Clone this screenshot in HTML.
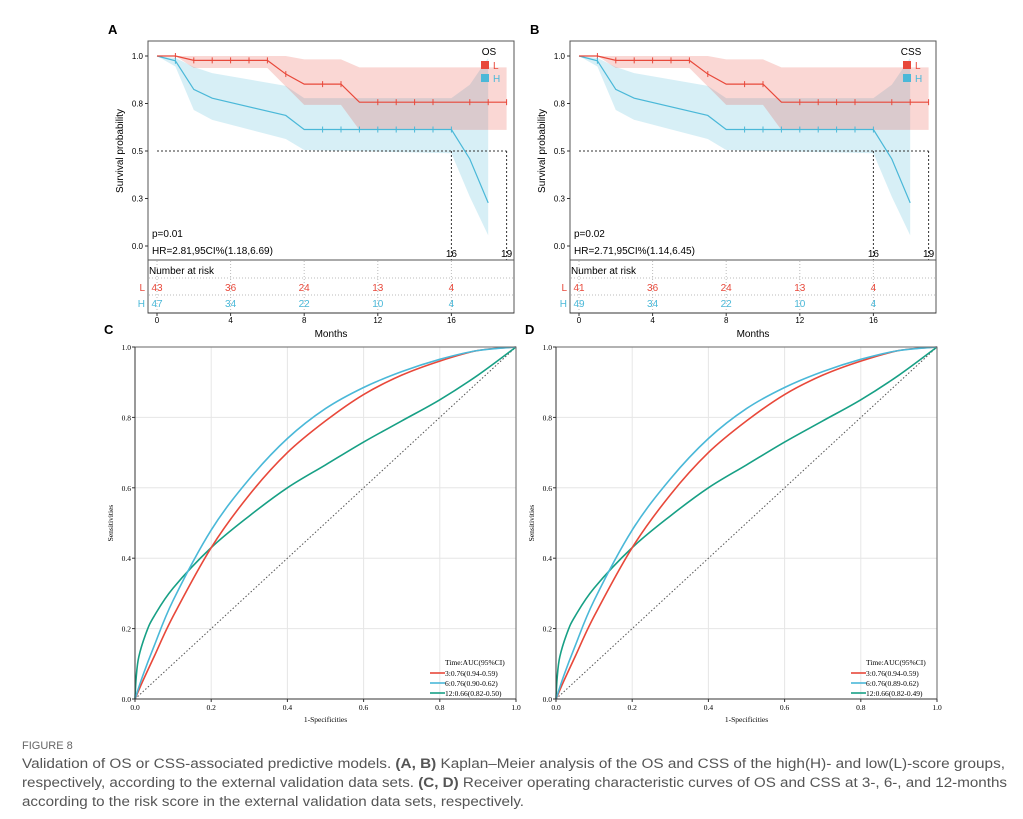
<!DOCTYPE html>
<html><head><meta charset="utf-8"><style>
body{margin:0;background:#fff;}
svg{display:block;font-family:"Liberation Sans",sans-serif;}
.serif{font-family:"Liberation Serif",serif;}
</style></head><body>
<svg id="fig" width="1023" height="819" viewBox="0 0 1023 819" xmlns="http://www.w3.org/2000/svg"></svg>
<script>
// ---- KM data ----
const kmTimes = [0,1,2,6,7,8,10,11,19];
const kmL = [1,1,0.977,0.977,0.905,0.852,0.852,0.757,0.757];
const kmLUpTimes = [0,7,8,10,11,19];
const kmLUp = [1,1,0.982,0.982,0.94,0.94];
const kmLLoTimes = [0,1,2,6,8,10,11,19];
const kmLLo = [1,1,0.937,0.937,0.743,0.743,0.611,0.611];
const kmHTimes = [0,1,2,3,7,8,16,17,18];
const kmH = [1,0.975,0.824,0.778,0.687,0.613,0.613,0.458,0.227];
const kmHUp = [1,0.99,0.942,0.91,0.843,0.778,0.778,0.849,0.99];
const kmHLo = [1,0.945,0.716,0.664,0.563,0.505,0.488,0.259,0.056];
const censorL = [1,2,3,4,5,6,7,9,10,12,13,14,15,17,18,19];
const censorH = [1,9,10,11,12,13,14,15,16];
const riskTimes = [0,4,8,12,16];
const riskA_L = [43,36,24,13,4], riskA_H = [47,34,22,10,4];
const riskB_L = [41,36,24,13,4], riskB_H = [49,34,22,10,4];
const kmYTicks = [0,0.25,0.5,0.75,1], kmYLabels = ["0.0","0.3","0.5","0.8","1.0"];
const kmXTicks = [0,4,8,12,16];
// ---- ROC data ----
const rocX3 = [0,0.02,0.05,0.1,0.2,0.3,0.4,0.5,0.6,0.7,0.8,0.9,1];
const rocY3 = [0,0.05,0.12,0.235,0.43,0.58,0.70,0.79,0.865,0.92,0.96,0.99,1];
const rocX6 = [0,0.02,0.05,0.1,0.2,0.3,0.4,0.5,0.6,0.7,0.8,0.9,1];
const rocY6 = [0,0.065,0.15,0.28,0.48,0.625,0.74,0.825,0.885,0.93,0.965,0.99,1];
const rocX12 = [0,0.003,0.01,0.03,0.05,0.1,0.2,0.3,0.4,0.5,0.6,0.7,0.8,0.9,1];
const rocY12 = [0,0.06,0.12,0.19,0.235,0.315,0.43,0.52,0.60,0.665,0.73,0.79,0.85,0.92,1];
const rocTicks = [0,0.2,0.4,0.6,0.8,1];
const legC = ["3:0.76(0.94-0.59)","6:0.76(0.90-0.62)","12:0.66(0.82-0.50)"];
const legD = ["3:0.76(0.94-0.59)","6:0.76(0.89-0.62)","12:0.66(0.82-0.49)"];

const NS="http://www.w3.org/2000/svg", svg=document.getElementById('fig');
function el(tag, attrs, parent, text){const e=document.createElementNS(NS,tag);for(const k in attrs)e.setAttribute(k,attrs[k]);if(text!==undefined)e.textContent=text;(parent||svg).appendChild(e);return e;}
const RED="#e8483a", BLUE="#4ab8d8", GREEN="#17a085";

function km(dx, tag, legTitle, pTxt, hrTxt, rL, rH){
  const g=el('g',{});
  
  
  const x=t=>157+dx+t*18.4, y=v=>246-v*190;
  const t=el('text',{x:108+dx,y:34,'font-size':13,'font-weight':'bold'},g,tag);
  
  const poly=(ts,vs)=>ts.map((tt,i)=>x(tt)+','+y(vs[i])).join(' ');
  function ts2(ts,vs,rev){let p=ts.map((tt,i)=>x(tt)+','+y(vs[i]));if(rev)p=p.reverse();return p.join(' ');}
  const band=(tu,vu,tl,vl)=>ts2(tu,vu)+' '+ts2(tl,vl,true);
  let b=el('polygon',{points:band(kmHTimes,kmHUp,kmHTimes,kmHLo),fill:BLUE,'fill-opacity':0.22},g);
  
  b=el('polygon',{points:band(kmLUpTimes,kmLUp,kmLLoTimes,kmLLo),fill:RED,'fill-opacity':0.22},g);
  
  el('polyline',{points:`${x(0)},${y(0.5)} ${x(19)},${y(0.5)}`,stroke:'#333','stroke-dasharray':'2,2',fill:'none','stroke-width':1},g);
  el('line',{x1:x(16),y1:y(0.5),x2:x(16),y2:260,stroke:'#333','stroke-dasharray':'2,2'},g);
  el('line',{x1:x(19),y1:y(0.5),x2:x(19),y2:260,stroke:'#333','stroke-dasharray':'2,2'},g);
  el('text',{x:x(16),y:257,'font-size':10,'text-anchor':'middle'},g,'16');
  el('text',{x:x(19),y:257,'font-size':10,'text-anchor':'middle'},g,'19');
  let l=el('polyline',{points:poly(kmHTimes,kmH),stroke:BLUE,fill:'none','stroke-width':1.2},g);
  
  l=el('polyline',{points:poly(kmTimes,kmL),stroke:RED,fill:'none','stroke-width':1.2},g);
  
  const interp=(ts,vs,tt)=>{for(let i=1;i<ts.length;i++){if(tt<=ts[i]){const f=(tt-ts[i-1])/(ts[i]-ts[i-1]);return vs[i-1]+f*(vs[i]-vs[i-1]);}}return vs[vs.length-1];};
  censorL.forEach(c=>{const yy=y(interp(kmTimes,kmL,c));el('line',{x1:x(c),x2:x(c),y1:yy-3,y2:yy+3,stroke:RED},g);});
  censorH.forEach(c=>{const yy=y(interp(kmHTimes,kmH,c));el('line',{x1:x(c),x2:x(c),y1:yy-3,y2:yy+3,stroke:BLUE},g);});
  el('rect',{x:148+dx,y:41,width:366,height:219,fill:'none',stroke:'#555','stroke-width':1},g);
  kmYTicks.forEach((v,i)=>{el('line',{x1:145+dx,x2:148+dx,y1:y(v),y2:y(v),stroke:'#333'},g);
    el('text',{x:143+dx,y:y(v)+3,'font-size':8,'text-anchor':'end'},g,kmYLabels[i]);});
  const yt=el('text',{x:0,y:0,'font-size':10,'text-anchor':'middle',transform:`translate(${123+dx},${151}) rotate(-90)`},g,'Survival probability');
  
  el('text',{x:152+dx,y:237,'font-size':10},g,pTxt);
  el('text',{x:152+dx,y:254,'font-size':10},g,hrTxt);
  const lg=el('g',{},g);
  el('text',{x:489+dx,y:55,'font-size':10,'text-anchor':'middle'},lg,legTitle);
  el('rect',{x:481+dx,y:61,width:8,height:8,fill:RED},lg);el('text',{x:493+dx,y:69,'font-size':10,fill:RED},lg,'L');
  el('rect',{x:481+dx,y:74,width:8,height:8,fill:BLUE},lg);el('text',{x:493+dx,y:82,'font-size':10,fill:BLUE},lg,'H');
  const rt=el('g',{},g);
  el('rect',{x:148+dx,y:260,width:366,height:53,fill:'none',stroke:'#555'},rt);
  riskTimes.forEach(tt=>el('line',{x1:x(tt),x2:x(tt),y1:261,y2:312,stroke:'#bbb','stroke-dasharray':'1,2'},rt));
  [278,295].forEach(yy=>el('line',{x1:149+dx,x2:513+dx,y1:yy,y2:yy,stroke:'#bbb','stroke-dasharray':'1,2'},rt));
  el('text',{x:149+dx,y:274,'font-size':10},rt,'Number at risk');
  el('text',{x:145+dx,y:291,'font-size':10,fill:RED,'text-anchor':'end'},rt,'L');
  el('text',{x:145+dx,y:307,'font-size':10,fill:BLUE,'text-anchor':'end'},rt,'H');
  riskTimes.forEach((tt,i)=>{el('text',{x:x(tt),y:291,'font-size':10,fill:RED,'text-anchor':'middle'},rt,rL[i]);
    el('text',{x:x(tt),y:307,'font-size':10,fill:BLUE,'text-anchor':'middle'},rt,rH[i]);});
  el('line',{x1:148+dx,x2:514+dx,y1:313,y2:313,stroke:'#333'},g);
  kmXTicks.forEach(tt=>{el('line',{x1:x(tt),x2:x(tt),y1:313,y2:316,stroke:'#333'},g);
    el('text',{x:x(tt),y:323,'font-size':8,'text-anchor':'middle'},g,String(tt));});
  const xt=el('text',{x:331+dx,y:337,'font-size':10,'text-anchor':'middle'},g,'Months');
  
}
km(0,'A','OS','p=0.01','HR=2.81,95CI%(1.18,6.69)',riskA_L,riskA_H);
km(422,'B','CSS','p=0.02','HR=2.71,95CI%(1.14,6.45)',riskB_L,riskB_H);

function smoothPath(pts){
  let d=`M${pts[0][0]},${pts[0][1]}`;
  for(let i=0;i<pts.length-1;i++){
    const p0=pts[Math.max(0,i-1)],p1=pts[i],p2=pts[i+1],p3=pts[Math.min(pts.length-1,i+2)];
    const c1x=p1[0]+(p2[0]-p0[0])/6,c1y=p1[1]+(p2[1]-p0[1])/6;
    const c2x=p2[0]-(p3[0]-p1[0])/6,c2y=p2[1]-(p3[1]-p1[1])/6;
    d+=` C${c1x},${c1y} ${c2x},${c2y} ${p2[0]},${p2[1]}`;
  }
  return d;
}

function roc(dx, tag, leg){
  const g=el('g',{class:'serif'});
  
  
  const X=v=>135+dx+v*381, Y=v=>699-v*352;
  el('text',{x:104+dx,y:334,'font-size':13,'font-weight':'bold','font-family':'Liberation Sans'},g,tag);
  rocTicks.forEach(v=>{el('line',{x1:X(v),x2:X(v),y1:Y(0),y2:Y(1),stroke:'#e6e6e6'},g);
    el('line',{x1:X(0),x2:X(1),y1:Y(v),y2:Y(v),stroke:'#e6e6e6'},g);});
  el('line',{x1:X(0),y1:Y(0),x2:X(1),y2:Y(1),stroke:'#555','stroke-dasharray':'1.5,2'},g);
  const curve=(xs,ys,c,name)=>{const p=el('path',{d:smoothPath(xs.map((v,i)=>[X(v),Y(ys[i])])),fill:'none',stroke:c,'stroke-width':1.6,'stroke-linejoin':'round'},g);
    };
  curve(rocX12,rocY12,GREEN,'roc-curve-12m');
  curve(rocX3,rocY3,RED,'roc-curve-3m');
  curve(rocX6,rocY6,BLUE,'roc-curve-6m');
  el('polyline',{points:`${X(0)},${Y(1)} ${X(1)},${Y(1)} ${X(1)},${Y(0)}`,fill:'none',stroke:'#666'},g);
  el('line',{x1:X(0),x2:X(1),y1:Y(0),y2:Y(0),stroke:'#333'},g);
  el('line',{x1:X(0),x2:X(0),y1:Y(0),y2:Y(1),stroke:'#333'},g);
  rocTicks.forEach(v=>{el('line',{x1:X(v),x2:X(v),y1:Y(0),y2:Y(0)+3,stroke:'#333'},g);
    el('text',{x:X(v),y:Y(0)+11,'font-size':7.5,'text-anchor':'middle'},g,v.toFixed(1));
    el('line',{x1:X(0)-3,x2:X(0),y1:Y(v),y2:Y(v),stroke:'#333'},g);
    el('text',{x:X(0)-4,y:Y(v)+3,'font-size':7.5,'text-anchor':'end'},g,v.toFixed(1));});
  el('text',{x:X(0.5),y:722,'font-size':7.5,'text-anchor':'middle'},g,'1-Specificities');
  el('text',{x:0,y:0,'font-size':7.5,'text-anchor':'middle',transform:`translate(${113+dx},523) rotate(-90)`},g,'Sensitivities');
  const lg=el('g',{},g);
  el('text',{x:445+dx,y:665,'font-size':7.5},lg,'Time:AUC(95%CI)');
  [RED,BLUE,GREEN].forEach((c,i)=>{const yy=676+i*10;el('line',{x1:430+dx,x2:445+dx,y1:yy-3,y2:yy-3,stroke:c,'stroke-width':1.6},lg);
    el('text',{x:445+dx,y:yy,'font-size':7.5},lg,leg[i]);});
}
roc(0,'C',legC);
roc(421,'D',legD);

const cap=el('g',{fill:'#555','font-size':13.5});

el('text',{x:22,y:749,'font-size':11,fill:'#666'},cap,'FIGURE 8');
const l1=el('text',{x:22,y:768,textLength:983,lengthAdjust:'spacingAndGlyphs'},cap);
l1.innerHTML='Validation of OS or CSS-associated predictive models. <tspan font-weight="bold">(A, B)</tspan> Kaplan–Meier analysis of the OS and CSS of the high(H)- and low(L)-score groups,';
const l2=el('text',{x:22,y:787,textLength:985,lengthAdjust:'spacingAndGlyphs'},cap);
l2.innerHTML='respectively, according to the external validation data sets. <tspan font-weight="bold">(C, D)</tspan> Receiver operating characteristic curves of OS and CSS at 3-, 6-, and 12-months';
el('text',{x:22,y:806,textLength:502,lengthAdjust:'spacingAndGlyphs'},cap,'according to the risk score in the external validation data sets, respectively.');
</script>
</body></html>
